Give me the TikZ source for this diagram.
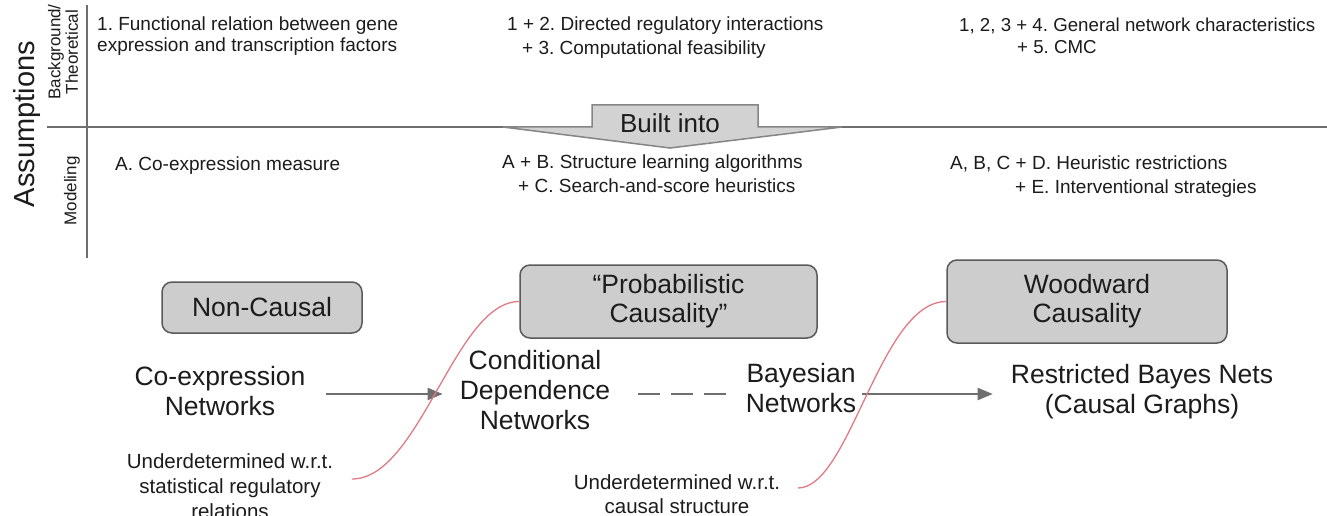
\documentclass[tikz,border=0pt]{standalone}
\usepackage{fontspec}
\setmainfont{Liberation Sans}
\usetikzlibrary{arrows.meta}
\definecolor{txt}{HTML}{1C1C1C}
\definecolor{ln}{HTML}{6E6E6E}
\definecolor{boxfill}{HTML}{CDCDCD}
\definecolor{boxline}{HTML}{5A5A5A}
\definecolor{arrfill}{HTML}{D2D2D2}
\definecolor{arrline}{HTML}{858585}
\definecolor{redc}{HTML}{E07A86}
\frenchspacing
\begin{document}
\begin{tikzpicture}[x=1pt,y=-1pt,
 small/.style={font=\fontsize{19}{21}\selectfont, text=txt, inner sep=0pt, align=left, anchor=north west},
 big/.style={font=\fontsize{26.5}{30}\selectfont, text=txt, inner sep=0pt, align=center},
 note/.style={font=\fontsize{20.5}{25}\selectfont, text=txt, inner sep=0pt, align=center},
 side/.style={rotate=90, text=txt, inner sep=0pt, align=center},
 catbox/.style={draw=boxline, fill=boxfill, rounded corners=10pt, line width=1.5pt, font=\fontsize{26.5}{29}\selectfont, text=txt, align=center, inner sep=0pt},
 arr/.style={draw=ln, line width=2pt, -{Triangle[length=15pt,width=12pt]}},
 dashline/.style={draw=ln, line width=2pt, dash pattern=on 22pt off 11pt},
 redline/.style={draw=redc, line width=1.3pt},
 axisline/.style={draw=ln, line width=2pt}]

\useasboundingbox[fill=white] (0,0) rectangle (1327,516);

% axes
\coordinate (vtop) at (87,5);
\coordinate (vbot) at (87,258);
\coordinate (hleft) at (47,127);
\coordinate (hright) at (1327,127);
\draw[axisline] (vtop) -- (vbot);
\draw[axisline] (hleft) -- (hright);

% side labels
\node[side, font=\fontsize{29}{30}\selectfont] (assump) at (27,124) {Assumptions};
\node[side, font=\fontsize{17}{17.5}\selectfont] (backg) at (63,52) {Background/\\Theoretical};
\node[side, font=\fontsize{17}{17.5}\selectfont] (model) at (72,191) {Modeling};

% built into arrow
\draw[fill=arrfill, draw=arrline, line width=1.5pt, line join=miter]
  (592,127) -- (592,105) -- (758,105) -- (758,127) -- (842,127) -- (670,148) -- (503,127) -- cycle;
\node[font=\fontsize{26}{28}\selectfont, text=txt, inner sep=0pt] (built) at (670,123) {Built into};

% top row
\node[small] (t1) at (97,17) {1. Functional relation between gene\\expression and transcription factors};
\node[small, font=\fontsize{19}{23.5}\selectfont] (t2) at (507,17) {1 + 2. Directed regulatory interactions\\\hspace*{15pt}+ 3. Computational feasibility};
\node[small, font=\fontsize{18.7}{22}\selectfont] (t3) at (959,18) {1, 2, 3 + 4. General network characteristics\\\hspace*{58pt}+ 5. CMC};

% modeling row
\node[small] (m1) at (115,157) {A. Co-expression measure};
\node[small, font=\fontsize{19}{24}\selectfont] (m2) at (502,155) {A + B. Structure learning algorithms\\\hspace*{16pt}+ C. Search-and-score heuristics};
\node[small, font=\fontsize{19}{24}\selectfont] (m3) at (950,156) {A, B, C + D. Heuristic restrictions\\\hspace*{65pt}+ E. Interventional strategies};

% category boxes
\node[catbox, minimum width=200pt, minimum height=51pt] (noncausal) at (262,307.5) {Non-Causal};
\node[catbox, minimum width=297pt, minimum height=73pt] (prob) at (668.5,301.5) {“Probabilistic\\Causality”};
\node[catbox, minimum width=280pt, minimum height=83pt] (wood) at (1087,301.5) {Woodward\\Causality};

% network nodes
\node[big] (coexp) at (220,391) {Co-expression\\Networks};
\node[big] (cond) at (535,390) {Conditional\\Dependence\\Networks};
\node[big] (bayes) at (801,388) {Bayesian\\Networks};
\node[big] (restr) at (1142,392) {Restricted Bayes Nets\\(Causal Graphs)};

% notes
\node[note] (und1) at (230,486) {Underdetermined w.r.t.\\statistical regulatory\\relations};
\node[note, font=\fontsize{20.5}{23.5}\selectfont] (und2) at (677,494) {Underdetermined w.r.t.\\causal structure};

% connectors
\draw[arr, shorten <=20pt, shorten >=17pt] ([yshift=-3pt]coexp.east) -- ([yshift=-3pt]coexp.east -| cond.west);
\draw[dashline, shorten <=28pt, shorten >=19pt] ([yshift=-4pt]cond.east) -- ([yshift=-4pt]cond.east -| bayes.west);
\draw[arr, shorten <=6pt, shorten >=18pt] ([yshift=-2pt]bayes.east |- restr.west) -- ([yshift=-2pt]restr.west);

% red curves
\coordinate (r1s) at (352,479);
\coordinate (r2s) at (798,488);
\draw[redline] (r1s) .. controls (420,479) and (455,301.5) .. (prob.west);
\draw[redline] (r2s) .. controls (850,488) and (880,301.5) .. (wood.west);
\end{tikzpicture}
\end{document}
